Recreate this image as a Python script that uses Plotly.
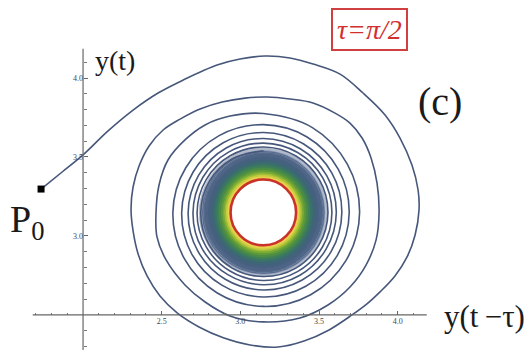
import plotly.graph_objects as go

# ---------------- data ----------------
# starting point P0
p0_x = [1.733]
p0_y = [3.297]

# first (outermost) turn of the trajectory  y(t) vs y(t-tau)
turn1_x = [1.733, 1.867, 2.000, 2.159, 2.318, 2.477, 2.636, 2.852, 2.998, 3.157, 3.316, 3.462,
           3.634, 3.780, 3.920, 4.015, 4.091, 4.130, 4.136, 4.111, 4.060, 3.983, 3.888, 3.805,
           3.710, 3.564, 3.405, 3.240, 3.062, 2.896, 2.737, 2.598, 2.489, 2.407, 2.350, 2.318,
           2.305, 2.318, 2.356, 2.420, 2.509, 2.617, 2.744, 2.884, 3.030, 3.170]
turn1_y = [3.297, 3.405, 3.513, 3.665, 3.797, 3.905, 3.987, 4.082, 4.120, 4.139, 4.127, 4.089,
           4.025, 3.905, 3.766, 3.620, 3.449, 3.291, 3.165, 3.006, 2.867, 2.747, 2.646, 2.570,
           2.500, 2.405, 2.335, 2.297, 2.310, 2.354, 2.424, 2.513, 2.620, 2.747, 2.886, 3.032,
           3.171, 3.310, 3.443, 3.570, 3.671, 3.740, 3.804, 3.848, 3.873, 3.880]

# second turn
turn2_x = [3.316, 3.462, 3.602, 3.697, 3.774, 3.831, 3.869, 3.882, 3.863, 3.799, 3.697, 3.557,
           3.379, 3.144, 2.934, 2.776, 2.648, 2.528, 2.470, 2.464, 2.483, 2.540, 2.648, 2.776, 2.934]
turn2_y = [3.867, 3.842, 3.778, 3.715, 3.620, 3.494, 3.335, 3.152, 2.975, 2.816, 2.677, 2.563,
           2.481, 2.456, 2.494, 2.582, 2.690, 2.848, 2.994, 3.152, 3.323, 3.481, 3.608, 3.703, 3.759]

# inner distinct turns (3..8), read every 30 degrees
inner_x = [3.147, 3.458, 3.680, 3.758, 3.671, 3.447, 3.147, 2.853, 2.644, 2.571, 2.653, 2.865,
           3.147, 3.424, 3.623, 3.692, 3.616, 3.416, 3.147, 2.882, 2.692, 2.627, 2.700, 2.891,
           3.147, 3.400, 3.582, 3.645, 3.576, 3.393, 3.147, 2.904, 2.729, 2.668, 2.735, 2.910,
           3.147, 3.381, 3.550, 3.610, 3.545, 3.376, 3.147, 2.920, 2.756, 2.699, 2.761, 2.925,
           3.147, 3.367, 3.525, 3.582, 3.522, 3.363, 3.147, 2.934, 2.780, 2.725, 2.783, 2.938,
           3.147, 3.354, 3.504, 3.557, 3.500, 3.350, 3.147, 2.946, 2.800, 2.748, 2.803, 2.950,
           3.147]
inner_y = [3.775, 3.686, 3.455, 3.147, 2.844, 2.628, 2.554, 2.639, 2.856, 3.147, 3.432, 3.635,
           3.705, 3.627, 3.422, 3.147, 2.876, 2.682, 2.614, 2.689, 2.884, 3.147, 3.405, 3.590,
           3.655, 3.584, 3.398, 3.147, 2.899, 2.721, 2.658, 2.726, 2.905, 3.147, 3.385, 3.557,
           3.617, 3.552, 3.380, 3.147, 2.917, 2.750, 2.691, 2.755, 2.921, 3.147, 3.370, 3.531,
           3.588, 3.527, 3.366, 3.147, 2.930, 2.774, 2.718, 2.778, 2.935, 3.147, 3.357, 3.509,
           3.563, 3.506, 3.353, 3.147, 2.943, 2.795, 2.743, 2.798, 2.947, 3.147, 3.346, 3.489,
           3.540]

# dense, time-coloured band close to the limit cycle: (radius, colour)
band_center = (3.146, 3.149)
band_radius = [0.410, 0.393, 0.375, 0.352, 0.332, 0.314, 0.299, 0.285, 0.271, 0.259, 0.248,
               0.238, 0.228, 0.218]
band_color = ['#b0bacb', '#7f8fad', '#566d8e', '#46617f', '#3e6677', '#3a7169', '#3e7f59',
              '#4a8c46', '#5e9a3a', '#79aa35', '#a0bd38', '#c8cc40', '#e8d24c', '#f0a845']
dense_ring_radius = [0.386, 0.378, 0.370, 0.362, 0.355]
limit_cycle_radius = 0.208

# axis ticks
x_major = [2.5, 3.0, 3.5, 4.0]
x_major_text = ['2.5', '3.0', '3.5', '4.0']
x_minor = [1.7, 1.8, 1.9, 2.1, 2.2, 2.3, 2.4, 2.6, 2.7, 2.8, 2.9, 3.1, 3.2, 3.3, 3.4,
           3.6, 3.7, 3.8, 3.9, 4.1]
y_major = [3.0, 3.5, 4.0]
y_major_text = ['3.0', '3.5', '4.0']
y_minor = [2.3, 2.4, 2.6, 2.7, 2.8, 2.9, 3.1, 3.2, 3.3, 3.4, 3.6, 3.7, 3.8, 3.9, 4.1]

# ---------------- figure ----------------
LINE = '#46577a'
traj_x = turn1_x + turn2_x + inner_x
traj_y = turn1_y + turn2_y + inner_y

fig = go.Figure()
fig.add_trace(go.Scatter(x=traj_x, y=traj_y, mode='lines',
                         line=dict(color=LINE, width=1.6, shape='spline', smoothing=1.0),
                         hoverinfo='skip'))
fig.add_trace(go.Scatter(x=p0_x, y=p0_y, mode='markers',
                         marker=dict(symbol='square', size=7, color='black'),
                         hoverinfo='skip'))

shapes = []
cx, cy = band_center
for r, c in zip(band_radius, band_color):
    shapes.append(dict(type='circle', xref='x', yref='y', x0=cx - r, x1=cx + r, y0=cy - r, y1=cy + r,
                       fillcolor=c, line=dict(width=0), layer='below'))
for r in dense_ring_radius:
    shapes.append(dict(type='circle', xref='x', yref='y', x0=cx - r, x1=cx + r, y0=cy - r, y1=cy + r,
                       line=dict(color='#4a5f82', width=0.8), layer='below'))
r = limit_cycle_radius
shapes.append(dict(type='circle', xref='x', yref='y', x0=cx - r, x1=cx + r, y0=cy - r, y1=cy + r,
                   fillcolor='white', line=dict(color='#c8322b', width=2.5), layer='above'))
# axis lines (Mathematica-style crossing axes)
shapes.append(dict(type='line', xref='x', yref='y', x0=1.68, x1=4.185, y0=2.5, y1=2.5,
                   line=dict(color='#666', width=1.2)))
shapes.append(dict(type='line', xref='x', yref='y', x0=2.0, x1=2.0, y0=2.278, y1=4.185,
                   line=dict(color='#666', width=1.2)))

TXT = '#1a1a1a'
fig.update_layout(
    width=526, height=350, margin=dict(l=0, r=0, t=0, b=0),
    paper_bgcolor='white', plot_bgcolor='white', showlegend=False,
    shapes=shapes,
    xaxis=dict(range=[1.472, 4.816], showgrid=False, zeroline=False, showline=False,
               anchor='free', position=0.1, tickmode='array', tickvals=x_major, ticktext=x_major_text,
               ticks='inside', ticklen=4, tickcolor='#666', tickwidth=1,
               tickfont=dict(family='Liberation Serif', size=8, color='#444'),
               minor=dict(tickmode='array', tickvals=x_minor, ticks='inside', ticklen=2.5,
                          tickcolor='#777', tickwidth=1)),
    yaxis=dict(range=[2.278, 4.494], showgrid=False, zeroline=False, showline=False,
               anchor='free', position=83 / 526, tickmode='array', tickvals=y_major, ticktext=y_major_text,
               ticks='inside', ticklen=4, tickcolor='#666', tickwidth=1,
               tickfont=dict(family='Liberation Serif', size=8, color='#444'),
               minor=dict(tickmode='array', tickvals=y_minor, ticks='inside', ticklen=2.5,
                          tickcolor='#777', tickwidth=1)),
    annotations=[
        dict(text='y(t)', x=115 / 526, y=1 - 60 / 350, xref='paper', yref='paper', showarrow=False,
             xanchor='center', yanchor='middle',
             font=dict(family='Liberation Serif', size=28, color=TXT)),
        dict(text='y(t\u2009\u2212\u03c4)', x=484 / 526, y=1 - 316 / 350, xref='paper', yref='paper',
             xanchor='center', yanchor='middle',
             showarrow=False, font=dict(family='Liberation Serif', size=31, color=TXT)),
        dict(text='(c)', x=440 / 526, y=1 - 101 / 350, xref='paper', yref='paper', showarrow=False,
             xanchor='center', yanchor='middle',
             font=dict(family='Liberation Serif', size=40, color=TXT)),
        dict(text='<i>\u03c4=\u03c0/2</i>', x=369.5 / 526, y=1 - 29.5 / 350, xref='paper', yref='paper',
             xanchor='center', yanchor='middle',
             showarrow=False, font=dict(family='Liberation Serif', size=28, color='#d22f2f'),
             bordercolor='#d04040', borderwidth=2, borderpad=4, bgcolor='white'),
        dict(text='P<sub>0</sub>', x=27 / 526, y=1 - 222 / 350, xref='paper', yref='paper',
             xanchor='center', yanchor='middle',
             showarrow=False, font=dict(family='Liberation Serif', size=38, color=TXT)),
    ],
)

fig.write_html('out.html', config={'displayModeBar': False},
               post_script="document.body.style.margin='0px';")
